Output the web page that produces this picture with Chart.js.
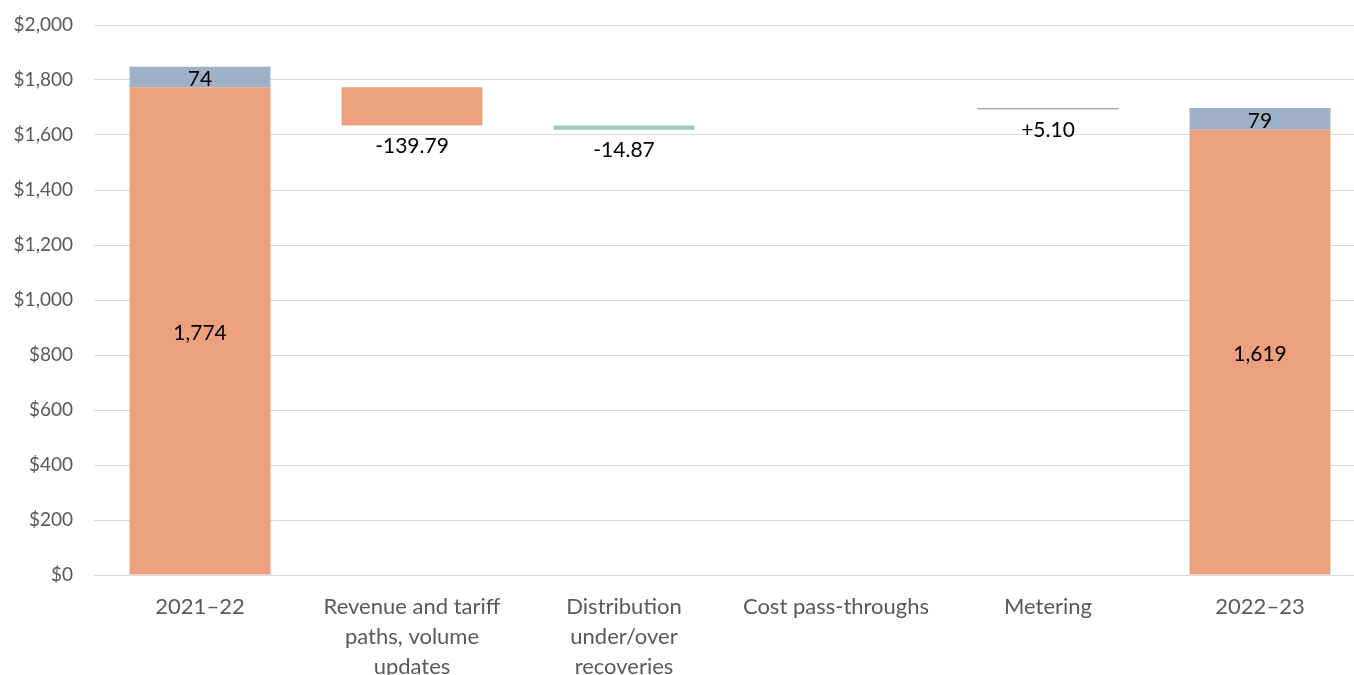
<!DOCTYPE html>
<html>
<head>
<meta charset="utf-8">
<script src="https://cdn.jsdelivr.net/npm/chart.js@4.4.1/dist/chart.umd.min.js"></script>
<style>
  html, body { margin: 0; padding: 0; background: #fff; overflow: hidden; }
  #chart { display: block; }
</style>
</head>
<body>
<canvas id="chart" width="1370" height="690"></canvas>
<script>
// categories along the x axis
const categories = [
  "2021\u201322",
  ["Revenue and tariff", "paths, volume", "updates"],
  ["Distribution", "under/over", "recoveries"],
  "Cost pass-throughs",
  "Metering",
  "2022\u201323"
];

// opening / closing totals ($m)
const openingBase = 1774;
const openingMetering = 74;
const closingBase = 1619;
const closingMetering = 79;

// step changes: revenue, distribution, pass-throughs, metering
const changes = [-139.79, -14.87, 0, 5.10];

const yTicks = { min: 0, max: 2000, step: 200 };

// build the floating ranges for the waterfall
let running = openingBase;
const revenueRange = [running + changes[0], running];
running += changes[0];
const distributionRange = [running + changes[1], running];
running += changes[1];
const meteringStart = closingBase + openingMetering;
const meteringRange = [meteringStart, meteringStart + changes[3]];

const baseData = [[0, openingBase], revenueRange, null, null, null, [0, closingBase]];
const meteringData = [[openingBase, openingBase + openingMetering], null, null, null, meteringRange, [closingBase, closingBase + closingMetering]];
const distributionData = [null, null, distributionRange, null, null, null];

const fmtChange = v => (v > 0 ? "+" : "") + v.toFixed(2);
const changeLabels = [null, fmtChange(changes[0]), fmtChange(changes[1]), null, fmtChange(changes[3]), null];
const totalIdx = [0, categories.length - 1];

const labelPlugin = {
  id: "waterfallLabels",
  afterDatasetsDraw(chart) {
    const ctx = chart.ctx;
    ctx.save();
    ctx.font = "21px Lato";
    ctx.fillStyle = "#000";
    ctx.textAlign = "center";
    ctx.textBaseline = "middle";
    chart.data.datasets.forEach((ds, di) => {
      const meta = chart.getDatasetMeta(di);
      meta.data.forEach((bar, i) => {
        const raw = ds.data[i];
        if (!raw) return;
        const top = Math.min(bar.y, bar.base);
        const bottom = Math.max(bar.y, bar.base);
        if (totalIdx.includes(i)) {
          const v = Math.round(raw[1] - raw[0]);
          ctx.fillText(v.toLocaleString("en-US"), bar.x, (top + bottom) / 2 + 2);
        } else if (changeLabels[i]) {
          ctx.fillText(changeLabels[i], bar.x, bottom + 21);
        }
      });
    });
    ctx.restore();
  }
};

const barOpts = { grouped: false, barPercentage: 0.665, categoryPercentage: 1, borderWidth: 0 };

new Chart(document.getElementById("chart"), {
  type: "bar",
  data: {
    labels: categories,
    datasets: [
      Object.assign({ label: "Base", data: baseData, backgroundColor: "#EDA07D" }, barOpts),
      Object.assign({ label: "Metering", data: meteringData, backgroundColor: "#9FB1C7" }, barOpts),
      Object.assign({ label: "Distribution", data: distributionData, backgroundColor: "#9ECBB9" }, barOpts)
    ]
  },
  options: {
    responsive: false,
    animation: false,
    layout: { padding: { top: 25, right: 4, left: 0, bottom: 0 } },
    plugins: { legend: { display: false }, tooltip: { enabled: false } },
    scales: {
      x: {
        grid: { display: false, drawTicks: false },
        border: { color: "#D9D9D9", width: 1 },
        ticks: {
          color: "#595959",
          font: { family: "Lato", size: 22, lineHeight: 1.36 },
          padding: 17,
          maxRotation: 0,
          autoSkip: false
        },
        afterFit(scale) { scale.height = 115; }
      },
      y: {
        min: yTicks.min,
        max: yTicks.max,
        grid: { color: "#D9D9D9", drawTicks: false },
        border: { display: false },
        ticks: {
          stepSize: yTicks.step,
          color: "#595959",
          font: { family: "Lato", size: 19 },
          padding: 21,
          callback: v => "$" + v.toLocaleString("en-US")
        },
        afterFit(scale) {
          scale.width = 94;
          scale.paddingTop = 0;
          scale.paddingBottom = 0;
        }
      }
    }
  },
  plugins: [labelPlugin]
});
</script>
</body>
</html>
